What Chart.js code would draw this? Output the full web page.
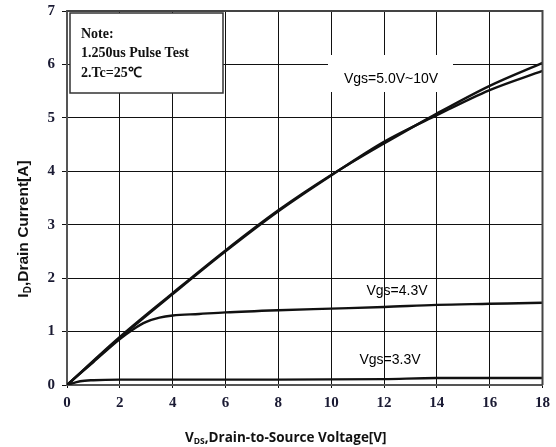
<!DOCTYPE html>
<html>
<head>
<meta charset="utf-8">
<script src="https://cdn.jsdelivr.net/npm/chart.js@4/dist/chart.umd.min.js"></script>
<style>
  html, body { margin: 0; padding: 0; background: #fff; }
  #wrap { width: 556px; height: 447px; }
</style>
</head>
<body>
<div id="wrap"><canvas id="chart" width="556" height="447"></canvas></div>
<script>
// valores
const xTicks = [0, 2, 4, 6, 8, 10, 12, 14, 16, 18];
const yTicks = [0, 1, 2, 3, 4, 5, 6, 7];

const vdsHigh = [0, 2, 4, 6, 8, 10, 12, 14, 16, 18];
const idHighA = [0, 0.9, 1.72, 2.52, 3.27, 3.93, 4.52, 5.08, 5.6, 6.03];
const idHighB = [0, 0.88, 1.7, 2.5, 3.25, 3.92, 4.55, 5.05, 5.52, 5.88];

const vds43 = [0, 1, 2, 2.5, 3, 3.5, 4, 5, 6, 8, 10, 12, 14, 16, 18];
const id43 = [0, 0.43, 0.86, 1.04, 1.18, 1.26, 1.3, 1.33, 1.36, 1.4, 1.43, 1.46, 1.5, 1.52, 1.54];

const vds33 = [0, 0.5, 1, 2, 4, 8, 12, 14, 18];
const id33 = [0, 0.07, 0.09, 0.1, 0.1, 0.1, 0.11, 0.13, 0.13];

const noteLines = ['Note:', '1.250us Pulse Test', '2.Tc=25\u2103'];

function pts(xs, ys) {
    return xs.map((x, i) => ({ x: x, y: ys[i] }));
}

function lineSet(label, xs, ys) {
    return {
        label: label,
        data: pts(xs, ys),
        borderColor: '#111',
        borderWidth: 2.4,
        pointRadius: 0,
        fill: false,
        cubicInterpolationMode: 'monotone'
    };
}

// desenha moldura, anotações, nota e títulos dos eixos
const decorPlugin = {
    id: 'decor',
    beforeDatasetsDraw(chart) {
        const ctx = chart.ctx;
        ctx.save();
        ctx.fillStyle = '#fff';
        ctx.fillRect(328, 55, 125, 37);
        ctx.restore();
    },
    afterDraw(chart) {
        const ctx = chart.ctx;
        const a = chart.chartArea;
        ctx.save();

        // moldura superior e direita
        ctx.strokeStyle = '#444';
        ctx.lineWidth = 2;
        ctx.beginPath();
        ctx.moveTo(a.left, a.top);
        ctx.lineTo(a.right, a.top);
        ctx.lineTo(a.right, a.bottom);
        ctx.stroke();

        // caixa da nota
        ctx.fillStyle = '#fff';
        ctx.fillRect(70, 13, 153, 80);
        ctx.strokeStyle = '#333';
        ctx.lineWidth = 1.5;
        ctx.strokeRect(70, 13, 153, 80);
        ctx.fillStyle = '#111';
        ctx.font = 'bold 14px "Liberation Serif"';
        ctx.textAlign = 'left';
        ctx.textBaseline = 'middle';
        noteLines.forEach((t, i) => ctx.fillText(t, 81, 34 + i * 19.5));

        // rótulos das curvas
        ctx.font = '14px "Liberation Sans"';
        ctx.fillStyle = '#000';
        ctx.textAlign = 'center';
        ctx.fillText('Vgs=5.0V~10V', 391, 79);
        ctx.fillText('Vgs=4.3V', 397, 291);
        ctx.fillText('Vgs=3.3V', 390, 360);

        // título do eixo x com subscrito
        ctx.fillStyle = '#111';
        ctx.textAlign = 'left';
        ctx.textBaseline = 'alphabetic';
        const big = 'bold 13.5px "Open Sans"', small = 'bold 8.5px "Open Sans"';
        const rest = ',Drain-to-Source Voltage[V]';
        ctx.font = big; const wV = ctx.measureText('V').width;
        ctx.font = small; const wS = ctx.measureText('DS').width;
        let x0 = 185;
        const by = 442;
        ctx.font = big; ctx.fillText('V', x0, by);
        ctx.font = small; ctx.fillText('DS', x0 + wV, by + 2);
        ctx.font = big; ctx.fillText(rest, x0 + wV + wS, by);

        // título do eixo y com subscrito
        ctx.translate(28, 229);
        ctx.rotate(-Math.PI / 2);
        const bigY = 'bold 15.5px "Liberation Sans"', smallY = 'bold 10px "Liberation Sans"';
        const restY = ',Drain Current[A]';
        ctx.font = bigY; const wI = ctx.measureText('I').width; const wRY = ctx.measureText(restY).width;
        ctx.font = smallY; const wD = ctx.measureText('D').width;
        let y0 = -(wI + wD + wRY) / 2;
        ctx.font = bigY; ctx.fillText('I', y0, 0);
        ctx.font = smallY; ctx.fillText('D', y0 + wI, 3);
        ctx.font = bigY; ctx.fillText(restY, y0 + wI + wD, 0);

        ctx.restore();
    }
};

const chart = new Chart(document.getElementById('chart').getContext('2d'), {
    type: 'line',
    data: {
        datasets: [
            lineSet('Vgs=10V', vdsHigh, idHighA),
            lineSet('Vgs=5.0V', vdsHigh, idHighB),
            lineSet('Vgs=4.3V', vds43, id43),
            lineSet('Vgs=3.3V', vds33, id33)
        ]
    },
    options: {
        responsive: false,
        animation: false,
        layout: { padding: { left: 0, right: 9, top: 11, bottom: 0 } },
        plugins: { legend: { display: false }, tooltip: { enabled: false } },
        scales: {
            x: {
                type: 'linear',
                min: 0, max: 18,
                afterBuildTicks: (s) => { s.ticks = xTicks.map(v => ({ value: v })); },
                afterFit: (s) => { s.height = 62; },
                grid: { color: '#111', lineWidth: 1, tickLength: 3, drawTicks: true },
                border: { color: '#555', width: 2 },
                ticks: {
                    color: '#1a1a33',
                    font: { family: 'Liberation Serif', weight: 'bold', size: 15 },
                    padding: 6,
                    maxRotation: 0
                }
            },
            y: {
                type: 'linear',
                min: 0, max: 7,
                afterBuildTicks: (s) => { s.ticks = yTicks.map(v => ({ value: v })); },
                afterFit: (s) => { s.width = 67; s.paddingTop = 0; s.paddingBottom = 0; },
                grid: { color: '#111', lineWidth: 1, tickLength: 5, drawTicks: true },
                border: { color: '#555', width: 2 },
                ticks: {
                    color: '#1a1a33',
                    font: { family: 'Liberation Serif', weight: 'bold', size: 15 },
                    padding: 7
                }
            }
        }
    },
    plugins: [decorPlugin]
});
</script>
</body>
</html>
